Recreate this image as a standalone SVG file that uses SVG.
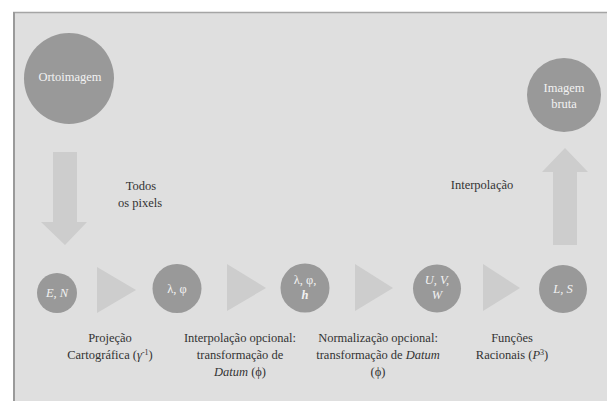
<svg xmlns="http://www.w3.org/2000/svg" width="607" height="401" viewBox="0 0 607 401">
<style>
text{font-size:12.5px;text-anchor:middle}
.lbl{fill:#333333}
.in{fill:#f2f2f2}
.node{fill:#999999}
.arr{fill:#cdcdcd}
.it{font-style:italic}
</style>
<rect x="0" y="0" width="607" height="401" fill="#ffffff"/>
<rect x="13" y="12" width="594" height="389" fill="#dfdfdf"/>
<line x1="13" y1="12.5" x2="607" y2="12.5" stroke="#a5a5a5" stroke-width="1.5"/>
<line x1="14" y1="12" x2="14" y2="401" stroke="#9a9a9a" stroke-width="2"/>
<g id="connectors">
<polygon class="arr" points="53,152 77,152 77,222 87,222 65,245 41,222 53,222"/>
<polygon class="arr" points="553,245 577,245 577,172 588,172 565,148 542,172 553,172"/>
<polygon class="arr" points="97,267 136,290 97,313"/>
<polygon class="arr" points="227,264 266,288 227,311"/>
<polygon class="arr" points="355,264 393,288 355,311"/>
<polygon class="arr" points="483,264 520,288 483,311"/>
</g>
<g font-family="'Liberation Serif', 'Times New Roman', 'DejaVu Serif', serif">
<g id="ortoimagem">
<ellipse class="node" cx="69" cy="78.5" rx="45" ry="45.5"/>
<text class="in" x="70" y="81">Ortoimagem</text>
</g>
<g id="imagem-bruta">
<circle class="node" cx="564" cy="95" r="37"/>
<text class="in" x="564" y="92">Imagem</text>
<text class="in" x="564" y="108">bruta</text>
</g>
<g id="en">
<circle class="node" cx="57" cy="293" r="20"/>
<text class="in it" x="57" y="297" font-size="13">E, N</text>
</g>
<g id="lambda-phi">
<circle class="node" cx="177" cy="288.5" r="24.5"/>
<text class="in" x="177" y="293" font-size="13">λ, φ</text>
</g>
<g id="lambda-phi-h">
<circle class="node" cx="305" cy="288" r="24.5"/>
<text class="in" x="305" y="284" font-size="13">λ, φ,</text>
<text class="in it" x="305" y="299" font-size="13" font-weight="bold">h</text>
</g>
<g id="uvw">
<circle class="node" cx="437" cy="288.5" r="24"/>
<text class="in it" x="437" y="284" font-size="13">U, V,</text>
<text class="in it" x="437" y="299" font-size="13">W</text>
</g>
<g id="ls">
<circle class="node" cx="563" cy="289" r="24"/>
<text class="in it" x="563" y="293" font-size="13">L, S</text>
</g>
<g id="labels">
<text class="lbl" x="141" y="190">Todos</text>
<text class="lbl" x="140" y="207">os pixels</text>
<text class="lbl" x="482" y="189">Interpolação</text>
<text class="lbl" x="110" y="342">Projeção</text>
<text class="lbl" x="110" y="359">Cartográfica (<tspan class="it">γ</tspan><tspan dy="-4" font-size="8">-1</tspan><tspan dy="4">)</tspan></text>
<text class="lbl" x="240" y="342">Interpolação opcional:</text>
<text class="lbl" x="240" y="359">transformação de</text>
<text class="lbl" x="240" y="376"><tspan class="it">Datum</tspan> (ϕ)</text>
<text class="lbl" x="378" y="342">Normalização opcional:</text>
<text class="lbl" x="378" y="359">transformação de <tspan class="it">Datum</tspan></text>
<text class="lbl" x="378" y="376">(ϕ)</text>
<text class="lbl" x="512" y="342">Funções</text>
<text class="lbl" x="512" y="359">Racionais (<tspan class="it">P</tspan><tspan dy="-4" font-size="8">3</tspan><tspan dy="4">)</tspan></text>
</g>
</g>
</svg>
